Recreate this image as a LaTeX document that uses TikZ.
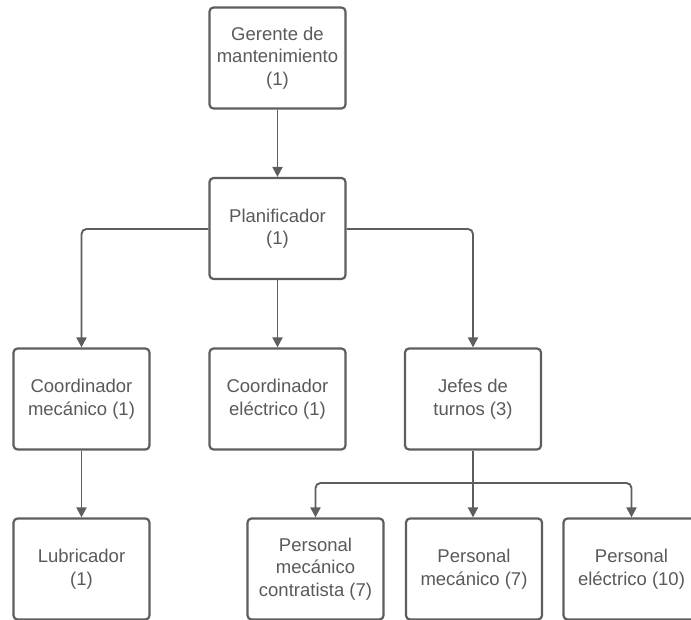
\documentclass[tikz,border=0pt]{standalone}
\usepackage{fontspec}
\setmainfont{Liberation Sans}
\usetikzlibrary{arrows.meta}
\definecolor{boxline}{HTML}{5E5E5E}
\definecolor{boxtext}{HTML}{5A5A5A}
\begin{document}
\begin{tikzpicture}[x=1pt,y=1pt,
  orgbox/.style={draw=boxline, line width=2.2pt, rounded corners=4pt, fill=white,
    minimum width=136pt, minimum height=101pt, inner sep=0pt, align=center,
    text=boxtext, font=\fontsize{18.5}{22.5}\selectfont},
  link/.style={draw=boxline, line width=1.9pt, rounded corners=5pt,
    -{Triangle[length=10pt,width=10pt]}},
  plain/.style={draw=boxline, line width=1.9pt, rounded corners=5pt}]
\useasboundingbox (0,0) rectangle (691,-620);

% top levels
\node[orgbox] (g) at (277.5,-58) {Gerente de\\mantenimiento\\(1)};
\node[orgbox] (p) at (277.5,-228.5) {Planificador\\(1)};

% coordinators
\node[orgbox] (cm) at (81.5,-399) {Coordinador\\mecánico (1)};
\node[orgbox] (ce) at (277.5,-399) {Coordinador\\eléctrico (1)};
\node[orgbox] (j) at (473,-399) {Jefes de\\turnos (3)};

% staff
\node[orgbox] (l) at (81.5,-569) {Lubricador\\(1)};
\node[orgbox] (pc) at (315.5,-569) {Personal\\mecánico\\contratista (7)};
\node[orgbox] (pm) at (474,-569) {Personal\\mecánico (7)};
\node[orgbox] (pe) at (631.5,-569) {Personal\\eléctrico (10)};

% connectors
\draw[link] (g) -- (p);
\draw[link] (p.west |- 0,-229) -| (cm.north);
\draw[link] (p) -- (ce);
\draw[link] (p.east |- 0,-229) -| (j.north);
\draw[link] (cm) -- (l);

\coordinate (split) at (473,-483);
\draw[plain] (j.south) -- (split);
\draw[link] (split) -| (pc.north);
\draw[link] (split) -| (pe.north);
\draw[link] (split) -- (pm.north -| split);
\end{tikzpicture}
\end{document}
